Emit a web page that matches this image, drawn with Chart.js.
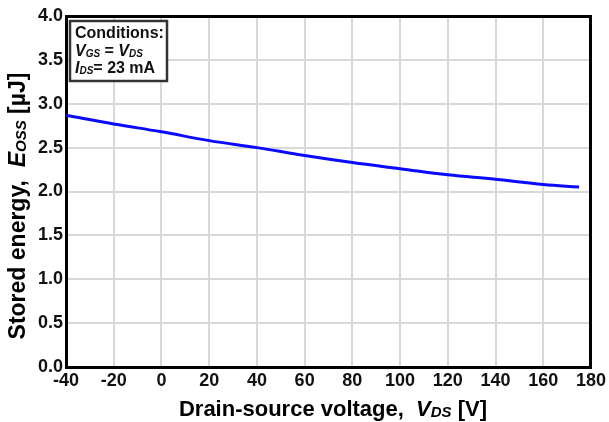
<!DOCTYPE html>
<html>
<head>
<meta charset="utf-8">
<script src="https://cdn.jsdelivr.net/npm/chart.js@4.4.1/dist/chart.umd.min.js"></script>
<style>
  html, body { margin: 0; padding: 0; background: #ffffff; }
  #wrap { width: 609px; height: 422px; }
</style>
</head>
<body>
<div id="wrap"><canvas id="c" width="609" height="422"></canvas></div>
<script>
// Drain-source voltage [V]
const vds = [-40, -20, 0, 20, 40, 60, 80, 100, 120, 140, 160, 175];
// Stored energy Eoss [µJ]
const eoss = [2.87, 2.77, 2.68, 2.58, 2.50, 2.41, 2.33, 2.26, 2.19, 2.14, 2.08, 2.05];
const xTicks = [-40, -20, 0, 20, 40, 60, 80, 100, 120, 140, 160, 180];
const yTicks = [0.0, 0.5, 1.0, 1.5, 2.0, 2.5, 3.0, 3.5, 4.0];

const FONT = '"Liberation Sans", Arial, sans-serif';

// draws a run of differently styled text pieces, starting at x
function drawRuns(ctx, runs, x, y) {
  let cx = x;
  runs.forEach(r => {
    ctx.font = r.font;
    ctx.fillText(r.t, cx, y + (r.dy || 0));
    cx += ctx.measureText(r.t).width;
  });
  return cx - x;
}
function measureRuns(ctx, runs) {
  let w = 0;
  runs.forEach(r => { ctx.font = r.font; w += ctx.measureText(r.t).width; });
  return w;
}

const annotations = {
  id: 'annotations',
  afterDraw(chart) {
    const ctx = chart.ctx;
    ctx.save();
    ctx.fillStyle = '#000';
    ctx.textBaseline = 'alphabetic';

    const big = 'bold 22px ' + FONT;
    const bigI = 'italic bold 22px ' + FONT;
    const subI = 'italic bold 15px ' + FONT;

    // x axis title
    const xRuns = [
      { t: 'Drain-source voltage,  ', font: big },
      { t: 'V', font: bigI },
      { t: 'DS', font: subI, dy: 1 },
      { t: ' [V]', font: big }
    ];
    const xw = measureRuns(ctx, xRuns);
    drawRuns(ctx, xRuns, 333 - xw / 2, 416);

    // y axis title (rotated)
    const yBig = 'bold 23px ' + FONT;
    const yBigI = 'italic bold 23px ' + FONT;
    const ySub = 'italic bold 15px ' + FONT;
    const yRuns = [
      { t: 'Stored energy,  ', font: yBig },
      { t: 'E', font: yBigI },
      { t: 'OSS', font: ySub, dy: 1 },
      { t: ' [\u00b5J]', font: yBig }
    ];
    const yw = measureRuns(ctx, yRuns);
    ctx.save();
    ctx.translate(25, 206);
    ctx.rotate(-Math.PI / 2);
    drawRuns(ctx, yRuns, -yw / 2, 0);
    ctx.restore();

    // conditions box
    const bx = 70, by = 21, bw = 97, bh = 60;
    ctx.fillStyle = '#fff';
    ctx.fillRect(bx, by, bw, bh);
    ctx.strokeStyle = '#333';
    ctx.lineWidth = 2.5;
    ctx.strokeRect(bx, by, bw, bh);
    ctx.fillStyle = '#111';
    const f = 'bold 16px ' + FONT;
    const fi = 'italic bold 16px ' + FONT;
    const fs = 'italic bold 10px ' + FONT;
    drawRuns(ctx, [{ t: 'Conditions:', font: f }], 75, 38);
    drawRuns(ctx, [
      { t: 'V', font: fi }, { t: 'GS', font: fs, dy: 1 },
      { t: ' = ', font: f },
      { t: 'V', font: fi }, { t: 'DS', font: fs, dy: 1 }
    ], 75, 56);
    drawRuns(ctx, [
      { t: 'I', font: fi }, { t: 'DS', font: fs, dy: 1 },
      { t: '= 23 mA', font: f }
    ], 75, 73);
    ctx.restore();
  }
};

new Chart(document.getElementById('c'), {
  type: 'line',
  data: {
    datasets: [{
      data: vds.map((v, i) => ({ x: v, y: eoss[i] })),
      borderColor: '#0a0aff',
      borderWidth: 3,
      pointRadius: 0,
      fill: false,
      tension: 0.4
    }]
  },
  options: {
    responsive: false,
    animation: false,
    devicePixelRatio: 1,
    layout: { padding: { top: 16, right: 17, left: 0, bottom: 0 } },
    plugins: { legend: { display: false }, tooltip: { enabled: false } },
    scales: {
      x: {
        type: 'linear',
        min: -40, max: 180,
        afterBuildTicks: s => { s.ticks = xTicks.map(v => ({ value: v })); },
        afterFit: s => { s.height = 55; },
        grid: { color: '#d8d8d8', lineWidth: 2, drawTicks: false },
        border: { color: '#000', width: 3 },
        ticks: {
          color: '#111',
          padding: 3,
          maxRotation: 0,
          autoSkip: false,
          font: { family: FONT, size: 18, weight: 'bold' },
          callback: v => String(v)
        }
      },
      y: {
        type: 'linear',
        min: 0, max: 4,
        afterBuildTicks: s => { s.ticks = yTicks.map(v => ({ value: v })); },
        afterFit: s => { s.width = 66; },
        grid: { color: '#d8d8d8', lineWidth: 2, drawTicks: false },
        border: { color: '#000', width: 3 },
        ticks: {
          color: '#111',
          padding: 3,
          autoSkip: false,
          font: { family: FONT, size: 18, weight: 'bold' },
          callback: v => v.toFixed(1)
        }
      },
      x2: {
        type: 'linear', position: 'top', min: -40, max: 180,
        grid: { display: false, drawTicks: false },
        border: { color: '#000', width: 3 },
        ticks: { display: false },
        afterFit: s => { s.height = 0; }
      },
      y2: {
        type: 'linear', position: 'right', min: 0, max: 4,
        grid: { display: false, drawTicks: false },
        border: { color: '#000', width: 3 },
        ticks: { display: false },
        afterFit: s => { s.width = 0; }
      }
    }
  },
  plugins: [annotations]
});
</script>
</body>
</html>
